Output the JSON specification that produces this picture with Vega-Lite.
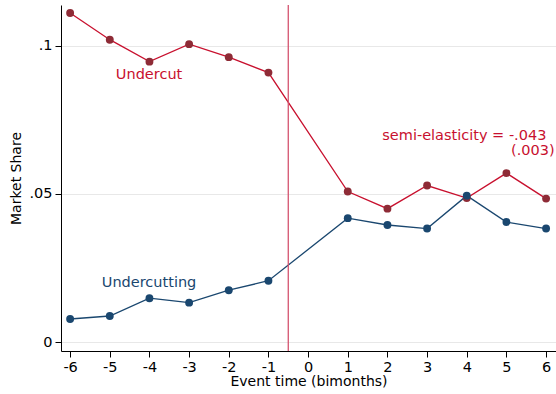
{
  "$schema": "https://vega.github.io/schema/vega-lite/v6.json",
  "autosize": {"type": "none"},
  "padding": {"left": 61, "top": 5, "right": 0, "bottom": 43},
  "width": 495,
  "height": 346,
  "config": {
    "font": "DejaVu Sans",
    "view": {"stroke": null},
    "axis": {"labelFont": "DejaVu Sans", "titleFont": "DejaVu Sans", "labelColor": "#000000", "titleColor": "#000000", "domainColor": "#000000", "tickColor": "#000000", "titleFontWeight": "normal"}
  },
  "datasets": {
    "share": [
      {"t": -6, "series": "Undercut", "share": 0.1110},
      {"t": -5, "series": "Undercut", "share": 0.1020},
      {"t": -4, "series": "Undercut", "share": 0.0946},
      {"t": -3, "series": "Undercut", "share": 0.1005},
      {"t": -2, "series": "Undercut", "share": 0.0961},
      {"t": -1, "series": "Undercut", "share": 0.0909},
      {"t": 1, "series": "Undercut", "share": 0.0508},
      {"t": 2, "series": "Undercut", "share": 0.0450},
      {"t": 3, "series": "Undercut", "share": 0.0528},
      {"t": 4, "series": "Undercut", "share": 0.0486},
      {"t": 5, "series": "Undercut", "share": 0.0570},
      {"t": 6, "series": "Undercut", "share": 0.0484},
      {"t": -6, "series": "Undercutting", "share": 0.0078},
      {"t": -5, "series": "Undercutting", "share": 0.0088},
      {"t": -4, "series": "Undercutting", "share": 0.0148},
      {"t": -3, "series": "Undercutting", "share": 0.0133},
      {"t": -2, "series": "Undercutting", "share": 0.0175},
      {"t": -1, "series": "Undercutting", "share": 0.0207},
      {"t": 1, "series": "Undercutting", "share": 0.0418},
      {"t": 2, "series": "Undercutting", "share": 0.0395},
      {"t": 3, "series": "Undercutting", "share": 0.0383},
      {"t": 4, "series": "Undercutting", "share": 0.0494},
      {"t": 5, "series": "Undercutting", "share": 0.0405},
      {"t": 6, "series": "Undercutting", "share": 0.0383}
    ],
    "labels": [
      {"t": -4.01, "share": 0.0900, "text": "Undercut", "series": "Undercut"},
      {"t": -4.01, "share": 0.0199, "text": "Undercutting", "series": "Undercutting"}
    ],
    "notes": [
      {"t": 6.008, "share": 0.0696, "text": "semi-elasticity = -.043", "series": "Undercut"},
      {"t": 6.217, "share": 0.0646, "text": "(.003)", "series": "Undercut"}
    ],
    "event": [{"t": -0.5}]
  },
  "layer": [
    {
      "data": {"name": "share"},
      "mark": {"type": "line", "strokeWidth": 1.3},
      "encoding": {
        "x": {"field": "t", "type": "quantitative", "scale": {"domain": [-6.23, 6.25], "nice": false, "zero": false},
          "axis": {"values": [-6,-5,-4,-3,-2,-1,0,1,2,3,4,5,6], "labelExpr": "'' + datum.value", "title": "Event time (bimonths)", "titleFontSize": 14, "labelFontSize": 14.5, "grid": false, "tickSize": 6, "labelPadding": 3, "titlePadding": 1}},
        "y": {"field": "share", "type": "quantitative", "scale": {"domain": [-0.003, 0.1137], "nice": false, "zero": false},
          "axis": {"values": [0, 0.05, 0.1], "labelExpr": "datum.value == 0 ? '0' : replace(format(datum.value, '.2~f'), '0.', '.')", "title": "Market Share", "titleFontSize": 14, "labelFontSize": 14.5, "grid": true, "gridColor": "#e8e8e8", "tickSize": 6, "labelPadding": 3, "titlePadding": 5}},
        "color": {"field": "series", "type": "nominal", "scale": {"domain": ["Undercut", "Undercutting"], "range": ["#c8102e", "#1a476f"]}, "legend": null}
      }
    },
    {
      "data": {"name": "event"},
      "mark": {"type": "rule", "color": "#d4536f", "strokeWidth": 1.3},
      "encoding": {"x": {"field": "t", "type": "quantitative"}}
    },
    {
      "data": {"name": "share"},
      "mark": {"type": "circle", "opacity": 1, "size": 62},
      "encoding": {
        "x": {"field": "t", "type": "quantitative"},
        "y": {"field": "share", "type": "quantitative"},
        "fill": {"field": "series", "type": "nominal", "scale": {"domain": ["Undercut", "Undercutting"], "range": ["#8e2b36", "#1a476f"]}, "legend": null}
      }
    },
    {
      "data": {"name": "labels"},
      "mark": {"type": "text", "fontSize": 14.5, "baseline": "middle", "align": "center"},
      "encoding": {
        "x": {"field": "t", "type": "quantitative"},
        "y": {"field": "share", "type": "quantitative"},
        "text": {"field": "text"},
        "color": {"field": "series", "type": "nominal", "scale": {"domain": ["Undercut", "Undercutting"], "range": ["#c8102e", "#1a476f"]}, "legend": null}
      }
    },
    {
      "data": {"name": "notes"},
      "mark": {"type": "text", "fontSize": 14.5, "baseline": "middle", "align": "right"},
      "encoding": {
        "x": {"field": "t", "type": "quantitative"},
        "y": {"field": "share", "type": "quantitative"},
        "text": {"field": "text"},
        "color": {"field": "series", "type": "nominal", "scale": {"domain": ["Undercut", "Undercutting"], "range": ["#c8102e", "#1a476f"]}, "legend": null}
      }
    }
  ]
}
